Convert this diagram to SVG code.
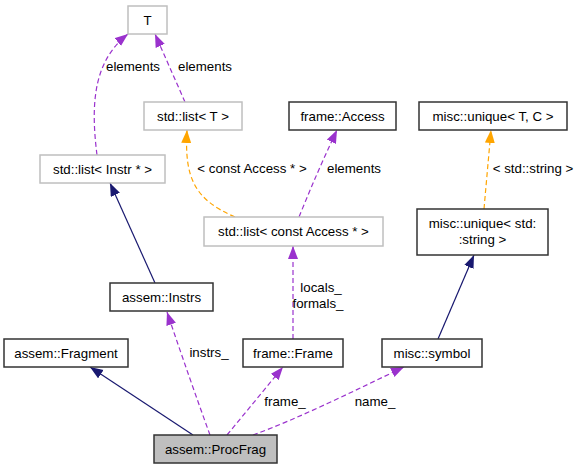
<svg xmlns="http://www.w3.org/2000/svg" width="581" height="469" viewBox="0 0 581 469">
<defs>
<style>
.n rect{fill:#fff;stroke:#333;stroke-width:1.5}
.g rect{fill:#fff;stroke:#bfbfbf;stroke-width:1.5}
.cur rect{fill:#bfbfbf;stroke:#333;stroke-width:1.5}
text{font-family:"Liberation Sans",Arial,sans-serif;font-size:13.3px;fill:#000;text-anchor:middle}
.e{fill:none;stroke-width:1.2}
.inh{stroke:#191970}
.use{stroke:#9a32cd;stroke-dasharray:5,3}
.tpl{stroke:#ffa500;stroke-dasharray:5,3}
</style>
<marker id="aN" markerUnits="userSpaceOnUse" markerWidth="14" markerHeight="11" refX="13" refY="5" orient="auto"><path d="M0,0 L13,5 L0,10 z" fill="#191970"/></marker>
<marker id="aP" markerUnits="userSpaceOnUse" markerWidth="14" markerHeight="11" refX="13" refY="5" orient="auto"><path d="M0,0 L13,5 L0,10 z" fill="#9a32cd"/></marker>
<marker id="aO" markerUnits="userSpaceOnUse" markerWidth="14" markerHeight="11" refX="13" refY="5" orient="auto"><path d="M0,0 L13,5 L0,10 z" fill="#ffa500"/></marker>
</defs>
<rect width="581" height="469" fill="#fff"/>
<g id="edges">
<path class="e inh" d="M193,435 L90,367" marker-end="url(#aN)"/>
<path class="e inh" d="M155,283 L110,183" marker-end="url(#aN)"/>
<path class="e use" d="M210,435 Q190,380 167,312" marker-end="url(#aP)"/>
<text x="209" y="357">instrs_</text>
<path class="e use" d="M227,435 L283,367" marker-end="url(#aP)"/>
<text x="285" y="406">frame_</text>
<path class="e use" d="M253,435 C300,418 360,388 404,367" marker-end="url(#aP)"/>
<text x="375" y="406">name_</text>
<path class="e use" d="M293,339 L293,246" marker-end="url(#aP)"/>
<text x="321" y="292">locals_</text>
<text x="318" y="308">formals_</text>
<path class="e inh" d="M438,339 L474,255" marker-end="url(#aN)"/>
<path class="e tpl" d="M484,209 L491,130" marker-end="url(#aO)"/>
<text x="533" y="173">&lt; std::string &gt;</text>
<path class="e use" d="M299,217 Q318,170 337,130" marker-end="url(#aP)"/>
<text x="354" y="173">elements</text>
<path class="e tpl" d="M235,217 C196,200 184,180 187,130" marker-end="url(#aO)"/>
<text x="252" y="173">&lt; const Access * &gt;</text>
<path class="e use" d="M185,102 L155,34" marker-end="url(#aP)"/>
<text x="205" y="71">elements</text>
<path class="e use" d="M97,155 C90,100 95,60 128,34" marker-end="url(#aP)"/>
<text x="133" y="71">elements</text>
</g>
<g id="T" class="g"><rect x="128" y="6" width="39" height="28"/><text x="147.5" y="24.5">T</text></g>
<g id="listT" class="g"><rect x="144" y="102" width="98" height="28"/><text x="193" y="120.5">std::list&lt; T &gt;</text></g>
<g id="listInstr" class="g"><rect x="40" y="155" width="125" height="28"/><text x="102.5" y="173.5">std::list&lt; Instr * &gt;</text></g>
<g id="listAccess" class="g"><rect x="204" y="217" width="179" height="29"/><text x="293.5" y="236">std::list&lt; const Access * &gt;</text></g>
<g id="frameAccess" class="n"><rect x="289" y="102" width="107" height="28"/><text x="342.5" y="120.5">frame::Access</text></g>
<g id="uniqueTC" class="n"><rect x="419" y="102" width="148" height="28"/><text x="493" y="120.5">misc::unique&lt; T, C &gt;</text></g>
<g id="uniqueStr" class="n"><rect x="417" y="209" width="131" height="46"/><text x="482.5" y="227.5">misc::unique&lt; std:</text><text x="482.5" y="244">:string &gt;</text></g>
<g id="instrs" class="n"><rect x="110" y="283" width="103" height="28"/><text x="161.5" y="301.5">assem::Instrs</text></g>
<g id="fragment" class="n"><rect x="4" y="339" width="124" height="28"/><text x="66" y="357.5">assem::Fragment</text></g>
<g id="frame" class="n"><rect x="243" y="339" width="100" height="28"/><text x="293" y="357.5">frame::Frame</text></g>
<g id="symbol" class="n"><rect x="382" y="339" width="100" height="28"/><text x="432" y="357.5">misc::symbol</text></g>
<g id="procfrag" class="cur"><rect x="154" y="435" width="123" height="28"/><text x="215.5" y="453.5">assem::ProcFrag</text></g>
</svg>
